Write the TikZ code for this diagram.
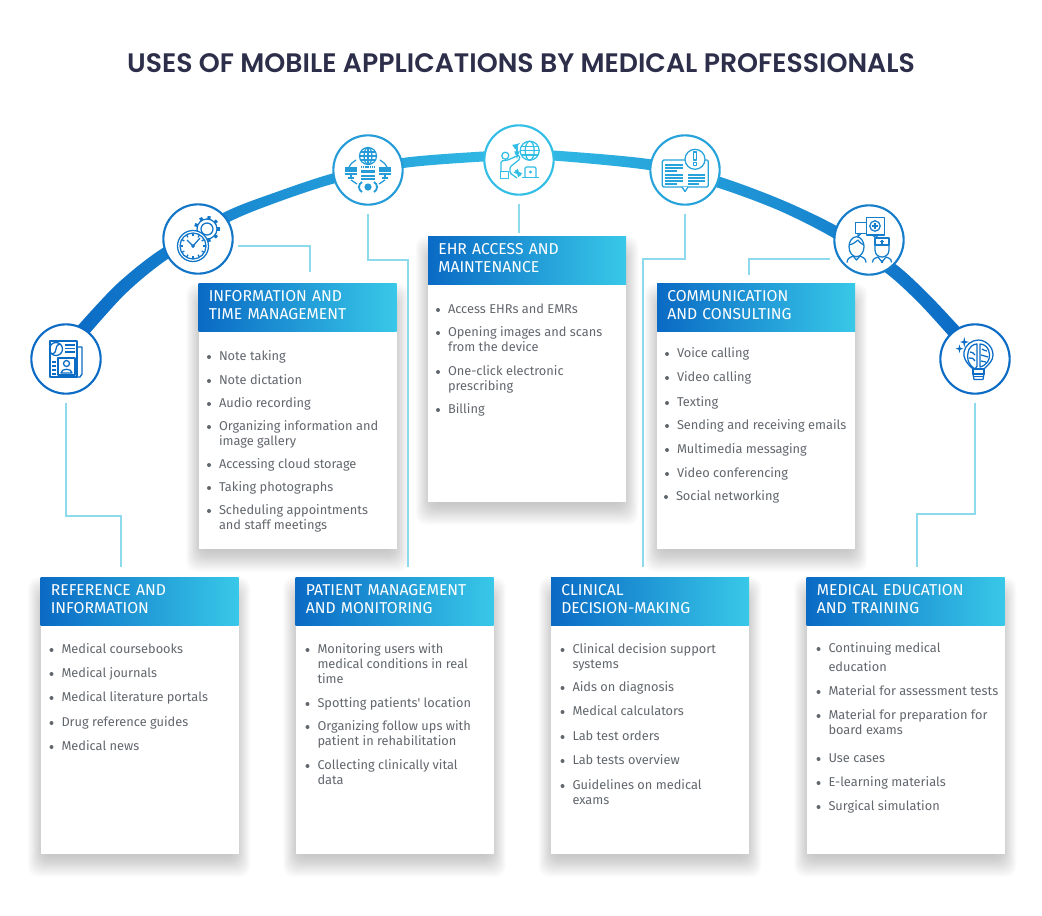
\documentclass[tikz,border=0pt]{standalone}
\usepackage{fontspec}
\setmainfont{Fira Sans}
\newfontfamily\titlefamily{Poppins SemiBold}
\newfontfamily\headfamily{Fira Sans}
\newfontfamily\itemfamily{Fira Sans}

\definecolor{blueA}{HTML}{0B6BC5}
\definecolor{blueB}{HTML}{1276C8}
\definecolor{blueC}{HTML}{259CD8}
\definecolor{blueD}{HTML}{33BEE6}
\definecolor{blueE}{HTML}{27A3DB}
\definecolor{blueF}{HTML}{157DCA}
\definecolor{blueG}{HTML}{0B6BC5}
\definecolor{headdark}{HTML}{0A6AC4}
\definecolor{headlight}{HTML}{38C8E8}
\definecolor{linkblue}{HTML}{8CDAEB}
\definecolor{titleink}{HTML}{2C2E4A}
\definecolor{itemink}{HTML}{62676D}

\tikzset{every picture/.style={line width=0.75pt}}
\tikzset{
	iconring/.style={circle,fill=white,line width=1.6pt,minimum size=52pt,inner sep=0pt},
	glyph/.style={line width=0.95pt,line join=round},
	cardbox/.style={anchor=north west,fill=white,minimum width=148.5pt,inner sep=0pt},
	softshadow/.style={fill=black,opacity=0.011},
	headbox/.style={anchor=north west,minimum width=148.5pt,minimum height=36pt,text width=133pt,
		inner xsep=7.75pt,inner ysep=0pt,align=left,left color=headdark,right color=headlight,text=white,
		text depth=18pt,font=\headfamily\fontsize{11.8}{13.5}\selectfont},
	bulletdot/.style={fill=itemink},
	itemtxt/.style={anchor=north west,inner sep=0pt,align=left,text=itemink,yshift=-1.5pt,
		font=\itemfamily\fontsize{9.6}{11.25}\selectfont,execute at begin node={\strut},
		append after command={\pgfextra{\fill[bulletdot] ([shift={(-9.5,7.3)}]\tikzlastnode.north west) circle (2);}}},
	link/.style={draw=linkblue,line width=0.8pt}
}

\begin{document}
\begin{tikzpicture}[x=0.75pt,y=0.75pt,yscale=-1,xscale=1]
	\useasboundingbox (0,0) rectangle (1042,915);
	
	% Title
	\node [text=titleink,font=\titlefamily\fontsize{20.05}{22}\selectfont] (title) at (521,63) {USES OF MOBILE APPLICATIONS BY MEDICAL PROFESSIONALS};
	
	% Arc band
	\shade [left color=blueA,right color=blueA,middle color=blueD] plot [smooth] coordinates {(73,331.2) (115.6,285.3) (159.8,249.9) (224.9,212) (278.4,191.3) (333.8,173.1) (402.3,158) (483,151.5) (519,150.5) (553.2,150.5) (652.9,159.6) (719.6,176.7) (782,199.9) (837.9,226.7) (894.1,263) (929.4,295.2) (965,333.2)} -- plot [smooth] coordinates {(955,342.8) (920.6,304.8) (885.9,273) (832.1,237.3) (778,210.1) (716.4,187.3) (651.1,170.4) (552.8,160.5) (519,160.5) (483,161.5) (403.7,168) (336.2,182.9) (281.6,200.7) (229.1,222) (166.2,260.1) (124.4,294.7) (83,340.8)} -- cycle;
	
	% Icon rings
	\node [iconring,draw=blueA] (iconA) at (66,359) {};
	\node [iconring,draw=blueB] (iconB) at (198,239) {};
	\node [iconring,draw=blueC] (iconC) at (368,170) {};
	\node [iconring,draw=blueD] (iconD) at (519,160) {};
	\node [iconring,draw=blueE] (iconE) at (685,170) {};
	\node [iconring,draw=blueF] (iconF) at (869,240) {};
	\node [iconring,draw=blueG] (iconG) at (975,359) {};
	
	% Newspaper glyph
	\begin{scope}[shift={(66,359)},color=blueA,glyph]
		\draw (-16,-18) rectangle (11,18);
		\draw (11,-12) -- (16,-12) -- (16,15) -- (14,18) -- (11,18);
		\draw (-10,-10) circle (6.5);
		\draw (-14,-5) .. controls (-7,-7) and (-13,-13) .. (-6,-15);
		\draw (-1,-14) -- (9,-14);
		\draw (-1,-10.5) -- (9,-10.5);
		\draw (-1,-7) -- (9,-7);
		\draw (-8,-1) rectangle (9,16);
		\draw (0.5,4.5) circle (3);
		\draw (-5,14) .. controls (-5,9) and (6,9) .. (6,14) -- cycle;
		\draw (-14,3) -- (-10,3);
		\draw (-14,7) -- (-10,7);
		\draw (-14,11) -- (-10,11);
		\draw (-14,15) -- (-10,15);
	\end{scope}
	
	% Clock and gear glyph
	\begin{scope}[shift={(198,239)},color=blueB,glyph]
		\begin{scope}[shift={(9,-10)}]
			\foreach \a in {0,40,...,320} \draw [line width=2.4pt] (\a:9) -- (\a:13);
			\draw [fill=white] (0,0) circle (10);
			\draw (0,0) circle (6);
		\end{scope}
		\draw [fill=white] (-5,7) circle (15.5);
		\draw (-5,7) circle (13);
		\foreach \a in {0,30,...,330} \draw ([shift={(-5,7)}]\a:10) -- ([shift={(-5,7)}]\a:12.5);
		\draw (-11,1) -- (-5,7) -- (2,-1);
		\draw [fill=white] (-5,7) circle (1.3);
	\end{scope}
	
	% Globe and servers glyph
	\begin{scope}[shift={(368,170)},color=blueC,glyph]
		\draw (0,-14) circle (8.5);
		\draw (0,-14) ellipse (4 and 8.5);
		\draw (0,-22.5) -- (0,-5.5);
		\draw (-8.5,-14) -- (8.5,-14);
		\draw (-7.5,-18) -- (7.5,-18);
		\draw (-7.5,-10) -- (7.5,-10);
		\draw (-12,-10) .. controls (-16,-7) and (-18,-6) .. (-19,-3);
		\draw (12,-10) .. controls (16,-7) and (18,-6) .. (19,-3);
		\fill (-23,-3) rectangle (-11,1.5);
		\fill (-23,2.5) rectangle (-11,4.5);
		\fill (11,-3) rectangle (23,1.5);
		\fill (11,2.5) rectangle (23,4.5);
		\draw (-20,8) -- (-14,8);
		\draw (14,8) -- (20,8);
		\draw (-17,4.5) -- (-17,8);
		\draw (17,4.5) -- (17,8);
		\draw [dash pattern=on 1pt off 0.6pt] (-7,-3) -- (7,-3);
		\fill (-7,0) rectangle (7,3);
		\fill (-7,4.5) rectangle (7,6.5);
		\fill (-7,8) rectangle (7,9.5);
		\fill (0,17) circle (3.6);
		\draw [line width=1.4pt] (-6,12) .. controls (-10,14) and (-10,20) .. (-6,22);
		\draw [line width=1.4pt] (6,12) .. controls (10,14) and (10,20) .. (6,22);
		\draw (-17,10) -- (-11,14);
		\draw (17,10) -- (11,14);
	\end{scope}
	
	% Person at laptop glyph
	\begin{scope}[shift={(519,160)},color=blueD,glyph]
		\draw (10.7,-9.3) circle (9.5);
		\draw (10.7,-9.3) ellipse (4.5 and 9.5);
		\draw (1.2,-9.3) -- (20.2,-9.3);
		\draw (2.5,-13.5) -- (19,-13.5);
		\draw (2.5,-5) -- (19,-5);
		\draw [-latex] (-2,-16) -- (-2,-1);
		\draw [-latex] (-2,-15) -- (1,-17);
		\draw [latex-latex] (-4,10) -- (2,16);
		\draw (-13.7,-4.3) circle (3.5);
		\draw [rounded corners=1pt] (-18,11) -- (-18,1) -- (-11,0) -- (0,-5) -- (1,-1) -- (-9,7) -- (-9,13) -- (-2,18);
		\draw (-18.5,11.5) rectangle (-10.5,18.5);
		\draw [rounded corners=1pt] (6,17) -- (6,7) -- (17,7) -- (17,17);
		\draw (3,17.5) -- (20,17.5);
		\fill (11.5,12) circle (1.6);
	\end{scope}
	
	% Open book glyph
	\begin{scope}[shift={(685,170)},color=blueE,glyph]
		\draw [rounded corners=1pt] (-22.7,-10) rectangle (23.3,17);
		\draw [fill=white] (-3,17) -- (0,21.5) -- (3,17);
		\draw [line width=1.1pt] (-20,-5) -- (-2,-5);
		\draw [line width=1.1pt] (-20,-2) -- (-2,-2);
		\draw [line width=1.1pt] (-20,1) -- (-8,1);
		\draw [line width=1.1pt] (-20,5) -- (-2,5);
		\draw [line width=1.1pt] (-20,8) -- (-2,8);
		\draw [line width=1.1pt] (-20,11) -- (-2,11);
		\draw [line width=1.1pt] (-20,14) -- (-8,14);
		\draw [line width=1.1pt] (3,5) -- (20,5);
		\draw [line width=1.1pt] (3,8) -- (20,8);
		\draw [line width=1.1pt] (3,11) -- (20,11);
		\draw [line width=1.1pt] (3,14) -- (14,14);
		\draw [fill=white] (10,-10.7) circle (10);
		\draw [line width=1pt] (8.3,-18) rectangle (11.7,-10);
		\draw [line width=1pt] (8.3,-7.5) rectangle (11.7,-4.5);
	\end{scope}
	
	% Two doctors glyph
	\begin{scope}[shift={(869,240)},color=blueF,glyph]
		\draw (-13.3,-17.7) rectangle (-2.3,-6.7);
		\draw (-11,-6.7) -- (-11,-3.5) -- (-8,-6.7);
		\draw [fill=white] (-2.3,-22.7) rectangle (15.3,-5);
		\draw (3,-5) -- (7,-2.5) -- (9,-5);
		\draw (6,-14) circle (5.2);
		\draw (6,-17) -- (6,-11);
		\draw (3,-14) -- (9,-14);
		\draw (-12.5,6.7) ellipse (7.5 and 10);
		\draw (-20,5) .. controls (-16,4) and (-13,2) .. (-11,0) .. controls (-9,3) and (-7,4) .. (-5,5);
		\draw (-22,22.5) .. controls (-22,18) and (-18,17) .. (-16,16) -- (-12.5,20) -- (-9,16) .. controls (-7,17) and (-3,18) .. (-3,22.5);
		\draw (6,-2) rectangle (20,5);
		\draw (13,-0.5) -- (13,3.5);
		\draw (11,1.5) -- (15,1.5);
		\draw (6,5) -- (6,10) .. controls (6,15) and (10,17) .. (13,17) .. controls (16,17) and (20,15) .. (20,10) -- (20,5);
		\draw (3.5,22.5) .. controls (3.5,18) and (7,18) .. (9,17) -- (13,22) -- (17,17) .. controls (19,18) and (22.5,18) .. (22.5,22.5);
		\draw (13,20) -- (13,22.5);
	\end{scope}
	
	% Brain bulb glyph
	\begin{scope}[shift={(975,359)},color=blueG,glyph]
		\draw (-2,10) .. controls (-10,3) and (-12,-3) .. (-11,-7) .. controls (-10,-14) and (-3,-19) .. (3.3,-19) .. controls (10,-19) and (18,-13) .. (18,-4) .. controls (18,2) and (13,6) .. (9,10);
		\draw (-2,10) -- (-2,15) -- (9,15) -- (9,10) -- cycle;
		\draw (-2,17.5) -- (9,17.5);
		\draw (-2,15) -- (-1,20.5) -- (8,20.5) -- (9,15);
		\draw (0,10) .. controls (-8,5) and (-8,-3) .. (-7,-6) .. controls (-6,-13) and (-1,-15) .. (2,-15) -- (2,7) -- cycle;
		\draw (5,-15) .. controls (10,-15) and (14,-11) .. (14.5,-5) .. controls (15,1) and (12,6) .. (5,8) -- cycle;
		\draw (-5,-7) .. controls (-3,-7) and (-1,-6) .. (0,-4);
		\draw (-6,-1) .. controls (-3,-2) and (-1,0) .. (0,2);
		\draw (7,-10) .. controls (9,-9) and (10,-8) .. (12,-8);
		\draw (6,-4) .. controls (9,-4) and (10,-2) .. (13,-2);
		\draw (6,2) .. controls (8,2) and (9,3) .. (11,3);
		\fill (-10.7,-22) -- (-9.7,-18) -- (-6,-17) -- (-9.7,-16) -- (-10.7,-12) -- (-11.7,-16) -- (-15,-17) -- (-11.7,-18) -- cycle;
		\fill (-15.5,-14.5) -- (-14.6,-11.2) -- (-11.5,-10.3) -- (-14.6,-9.4) -- (-15.5,-6) -- (-16.4,-9.4) -- (-19.5,-10.3) -- (-16.4,-11.2) -- cycle;
	\end{scope}
	
	% Card shadows
	\foreach \cx/\cy/\cr/\cb in {198/283/397/548,656.5/283/855.5/548,427.5/236/626.5/501,40/577/238.5/853,295/577/494/853,550.5/577/749.5/853,806/577/1004.5/853}
		\foreach \g in {1,...,20}
			\fill [softshadow,rounded corners=8pt] (\cx+4-\g*0.8,\cy+20-\g) rectangle (\cr-4+\g*0.8,\cb+2+\g*1.1);
	
	% Cards
	\node [cardbox,minimum height=198.75pt] (cardB) at (198,283) {};
	\node [headbox] (headB) at (198,283) {INFORMATION AND\\TIME MANAGEMENT};
	\node [cardbox,minimum height=198.75pt] (cardF) at (656.5,283) {};
	\node [headbox] (headF) at (656.5,283) {COMMUNICATION\\AND CONSULTING};
	\node [cardbox,minimum height=198.75pt] (cardD) at (427.5,236) {};
	\node [headbox] (headD) at (427.5,236) {EHR ACCESS AND\\MAINTENANCE};
	\node [cardbox,minimum height=207pt] (cardA) at (40,577) {};
	\node [headbox] (headA) at (40,577) {REFERENCE AND\\INFORMATION};
	\node [cardbox,minimum height=207pt] (cardC) at (295,577) {};
	\node [headbox] (headC) at (295,577) {PATIENT MANAGEMENT\\AND MONITORING};
	\node [cardbox,minimum height=207pt] (cardE) at (550.5,577) {};
	\node [headbox] (headE) at (550.5,577) {CLINICAL\\DECISION-MAKING};
	\node [cardbox,minimum height=207pt] (cardG) at (806,577) {};
	\node [headbox] (headG) at (806,577) {MEDICAL EDUCATION\\AND TRAINING};
	
	% Connector ends
	\coordinate (bendA) at (121,516);
	\coordinate (endA) at (121,567);
	\coordinate (startB) at (238,246);
	\coordinate (endB) at (310,272);
	\coordinate (bendC) at (408,260);
	\coordinate (endC) at (408,567);
	\coordinate (endD) at (519,233);
	\coordinate (bendE) at (643,259);
	\coordinate (endE) at (643,567);
	\coordinate (startF) at (830,259);
	\coordinate (endF) at (749,275);
	\coordinate (bendG) at (917,514);
	\coordinate (endG) at (917,567);
	
	% Connectors
	\draw [link,shorten <=6pt] (iconA.south) |- (bendA) -- (endA);
	\draw [link] (startB) -| (endB);
	\draw [link,shorten <=6pt] (iconC.south) |- (bendC) -- (endC);
	\draw [link,shorten <=6pt] (iconD.south) -- (endD);
	\draw [link,shorten <=6pt] (iconE.south) |- (bendE) -- (endE);
	\draw [link] (startF) -| (endF);
	\draw [link,shorten <=6pt] (iconG.south) |- (bendG) -- (endG);
	
	% Items of the first card
	\node [itemtxt] (itemA1) at (61,640.7) {Medical coursebooks};
	\node [itemtxt] (itemA2) at (61,664.7) {Medical journals};
	\node [itemtxt] (itemA3) at (61,688.7) {Medical literature portals};
	\node [itemtxt] (itemA4) at (61,713.7) {Drug reference guides};
	\node [itemtxt] (itemA5) at (61,737.7) {Medical news};
	
	% Items of the second card
	\node [itemtxt] (itemB1) at (218.5,347.7) {Note taking};
	\node [itemtxt] (itemB2) at (218.5,371.7) {Note dictation};
	\node [itemtxt] (itemB3) at (218.5,394.7) {Audio recording};
	\node [itemtxt] (itemB4) at (218.5,417.7) {Organizing information and\\image gallery};
	\node [itemtxt] (itemB5) at (218.5,455.7) {Accessing cloud storage};
	\node [itemtxt] (itemB6) at (218.5,478.7) {Taking photographs};
	\node [itemtxt] (itemB7) at (218.5,501.7) {Scheduling appointments\\and staff meetings};
	
	% Items of the third card
	\node [itemtxt] (itemC1) at (317,640.7) {Monitoring users with\\medical conditions in real\\time};
	\node [itemtxt] (itemC2) at (317,694.7) {Spotting patients' location};
	\node [itemtxt] (itemC3) at (317,717.7) {Organizing follow ups with\\patient in rehabilitation};
	\node [itemtxt] (itemC4) at (317,756.7) {Collecting clinically vital\\data};
	
	% Items of the fourth card
	\node [itemtxt] (itemD1) at (447.5,300.7) {Access EHRs and EMRs};
	\node [itemtxt] (itemD2) at (447.5,323.7) {Opening images and scans\\from the device};
	\node [itemtxt] (itemD3) at (447.5,362.7) {One-click electronic\\prescribing};
	\node [itemtxt] (itemD4) at (447.5,400.7) {Billing};
	
	% Items of the fifth card
	\node [itemtxt] (itemE1) at (572,640.7) {Clinical decision support\\systems};
	\node [itemtxt] (itemE2) at (572,678.7) {Aids on diagnosis};
	\node [itemtxt] (itemE3) at (572,702.7) {Medical calculators};
	\node [itemtxt] (itemE4) at (572,727.7) {Lab test orders};
	\node [itemtxt] (itemE5) at (572,751.7) {Lab tests overview};
	\node [itemtxt] (itemE6) at (572,776.7) {Guidelines on medical\\exams};
	
	% Items of the sixth card
	\node [itemtxt] (itemF1) at (676.5,344.7) {Voice calling};
	\node [itemtxt] (itemF2) at (676.5,368.7) {Video calling};
	\node [itemtxt] (itemF3) at (676.5,393.7) {Texting};
	\node [itemtxt] (itemF4) at (676.5,416.7) {Sending and receiving emails};
	\node [itemtxt] (itemF5) at (676.5,440.7) {Multimedia messaging};
	\node [itemtxt] (itemF6) at (676.5,464.7) {Video conferencing};
	\node [itemtxt] (itemF7) at (675.5,487.7) {Social networking};
	
	% Items of the last card
	\node [itemtxt] (itemG1) at (828,639.7) {Continuing medical\\[3pt]education};
	\node [itemtxt] (itemG2) at (828,682.7) {Material for assessment tests};
	\node [itemtxt] (itemG3) at (828,706.7) {Material for preparation for\\board exams};
	\node [itemtxt] (itemG4) at (828,749.7) {Use cases};
	\node [itemtxt] (itemG5) at (828,773.7) {E-learning materials};
	\node [itemtxt] (itemG6) at (828,797.7) {Surgical simulation};
	
\end{tikzpicture}
\end{document}
